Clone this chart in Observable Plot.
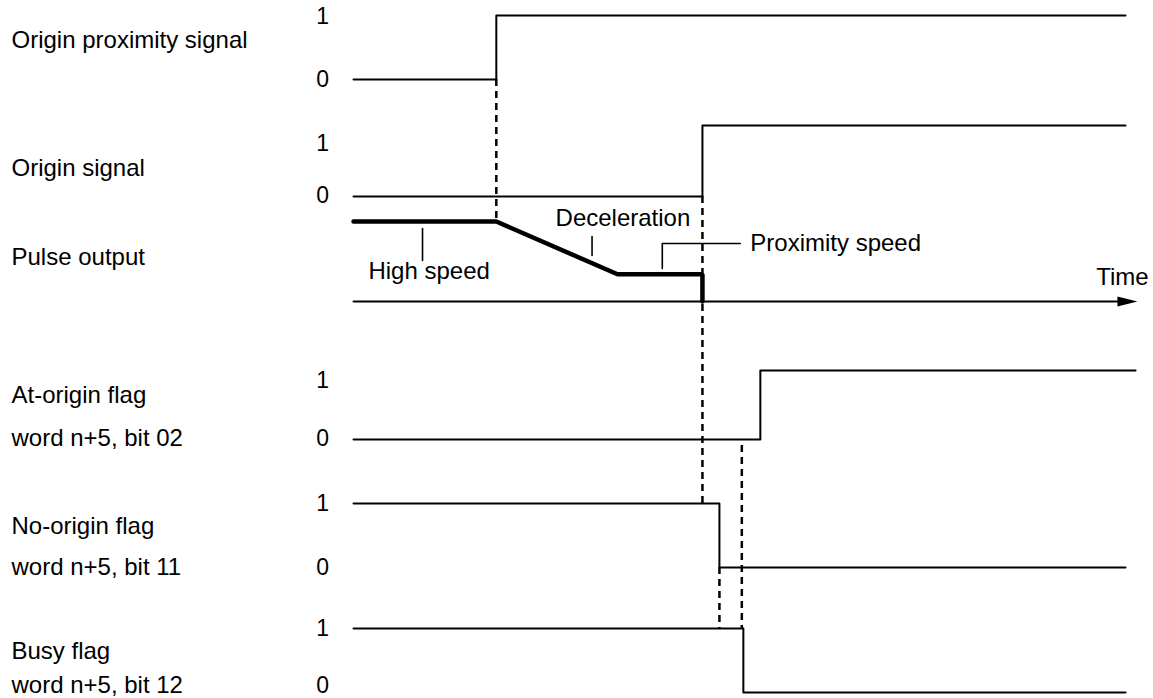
<!DOCTYPE html>
<html><head><meta charset="utf-8">
<script src="https://cdn.jsdelivr.net/npm/d3@7"></script>
<script src="https://cdn.jsdelivr.net/npm/@observablehq/plot@0.6"></script>
<style>html,body{margin:0;padding:0;background:#fff;overflow:hidden}</style>
</head><body><div id="chart"></div>
<script>
// ---------- data ----------
const signalNames = ["Origin proximity signal", "Origin signal", "Pulse output", "At-origin flag", "No-origin flag", "Busy flag"];
const wordLabels = ["word n+5, bit 02", "word n+5, bit 11", "word n+5, bit 12"];
const levelTickLabels = ["1", "0"];
const annotationTexts = ["High speed", "Deceleration", "Proximity speed"];
const axisLabel = "Time";

// times (arbitrary time units) and logic levels
const proxTimes = [0, 18.5, 100],        proxLevels = [0, 1, 1];
const originTimes = [0, 45.2, 100],      originLevels = [0, 1, 1];
const pulseTimes = [0, 18.5, 34.2, 45.2, 45.2], pulseSpeeds = [1, 1, 0.34, 0.34, 0];
const atOriginTimes = [0, 52.7, 101.3],  atOriginLevels = [0, 1, 1];
const noOriginTimes = [0, 47.4, 100],    noOriginLevels = [1, 0, 0];
const busyTimes = [0, 50.5, 100],        busyLevels = [1, 0, 0];
const timeAxisEnd = 101.55;

// ---------- layout (positions & styles) ----------
const W = 1153, H = 698;
const rows = {
  prox:   {base: 79,  amp: 64},
  origin: {base: 196, amp: 71},
  pulse:  {base: 301, amp: 80},
  at:     {base: 439, amp: 69},
  no:     {base: 567, amp: 64},
  busy:   {base: 692, amp: 64}
};
const lvl = (r, v) => rows[r].base - v * rows[r].amp;
const series = (r, ts, vs) => ts.map((t, i) => ({t, y: lvl(r, vs[i])}));

const leftLabelY = [40, 168, 257, 395, 526, 651];
const wordLabelY = [438, 567, 685];
const tickLabelY = [[16, 79], [143, 195], [380, 438], [503, 567], [628, 685]];
const tickLabelX = -4.0;
const FONT = "'Liberation Sans', Arial, Helvetica, sans-serif";
const FS = 24;

const leftLabels = signalNames.map((s, i) => ({s, y: leftLabelY[i]}))
  .concat(wordLabels.map((s, i) => ({s, y: wordLabelY[i]})));
const tickLabels = tickLabelY.flatMap(pair => pair.map((y, j) => ({s: levelTickLabels[j], y})));

// dashed guides: time + vertical extent (rows)
const guides = [
  {t: proxTimes[1],   y1: lvl("prox", 0),   y2: lvl("pulse", 1)},
  {t: originTimes[1], y1: lvl("origin", 0), y2: lvl("no", 1)},
  {t: noOriginTimes[1], y1: lvl("no", 0),   y2: lvl("busy", 1)},
  {t: busyTimes[1] - 0.2, y1: lvl("at", 0) + 6, y2: lvl("busy", 1)}
];

// annotation leaders & texts
const leaders = [
  [{t: 8.94, y: 228}, {t: 8.94, y: 260}],
  [{t: 30.9, y: 236}, {t: 30.9, y: 255}],
  [{t: 40.0, y: 268}, {t: 40.0, y: 243}, {t: 50.1, y: 243}]
];
const annotsMiddle = [
  {s: annotationTexts[0], t: 9.8,  y: 271},
  {s: annotationTexts[1], t: 34.9, y: 218}
];
const annotsStart = [
  {s: annotationTexts[2], t: 51.4, y: 243}
];
const annotsEnd = [
  {s: axisLabel, t: 103.0, y: 277}
];

const arrowHead = {
  draw(ctx) { ctx.moveTo(0, 0); ctx.lineTo(-20, -5); ctx.lineTo(-20, 5); ctx.closePath(); }
};

const stepLine = (data) => Plot.line(data, {x: "t", y: "y", curve: "step-after", stroke: "#000", strokeWidth: 2});

const chart = Plot.plot({
  width: W, height: H,
  marginLeft: 0, marginRight: 0, marginTop: 0, marginBottom: 0,
  x: {domain: [0, 100], range: [353, 1125], axis: null},
  y: {domain: [0, H], range: [0, H], axis: null},
  style: {fontFamily: FONT, background: "#fff", color: "#000"},
  marks: [
    // dashed guides
    Plot.ruleX(guides, {x: "t", y1: "y1", y2: "y2", stroke: "#000", strokeWidth: 2.5, strokeDasharray: "7,5"}),
    // signals
    stepLine(series("prox", proxTimes, proxLevels)),
    stepLine(series("origin", originTimes, originLevels)),
    stepLine(series("at", atOriginTimes, atOriginLevels)),
    stepLine(series("no", noOriginTimes, noOriginLevels)),
    stepLine(series("busy", busyTimes, busyLevels)),
    // time axis
    Plot.line([{t: 0, y: rows.pulse.base}, {t: timeAxisEnd - 2, y: rows.pulse.base}], {x: "t", y: "y", stroke: "#000", strokeWidth: 2}),
    Plot.dot([{t: timeAxisEnd, y: rows.pulse.base}], {x: "t", y: "y", symbol: arrowHead, fill: "#000", stroke: null}),
    // pulse output
    Plot.line(series("pulse", pulseTimes, pulseSpeeds), {x: "t", y: "y", stroke: "#000", strokeWidth: 4.5, strokeLinejoin: "miter", strokeLinecap: "round"}),
    // leaders
    ...leaders.map(l => Plot.line(l, {x: "t", y: "y", stroke: "#000", strokeWidth: 1.6})),
    // annotation texts
    Plot.text(annotsMiddle, {x: "t", y: "y", text: "s", textAnchor: "middle", fontSize: FS, fill: "#000"}),
    Plot.text(annotsStart, {x: "t", y: "y", text: "s", textAnchor: "start", fontSize: FS, fill: "#000"}),
    Plot.text(annotsEnd, {x: "t", y: "y", text: "s", textAnchor: "end", fontSize: FS, fill: "#000"}),
    // left labels
    Plot.text(leftLabels, {frameAnchor: "left", dx: 11, y: "y", text: "s", textAnchor: "start", fontSize: FS, fill: "#000"}),
    // level ticks
    Plot.text(tickLabels, {x: () => tickLabelX, y: "y", text: "s", fontSize: 23, fill: "#000"})
  ]
});
document.getElementById("chart").appendChild(chart);
</script>
</body></html>
